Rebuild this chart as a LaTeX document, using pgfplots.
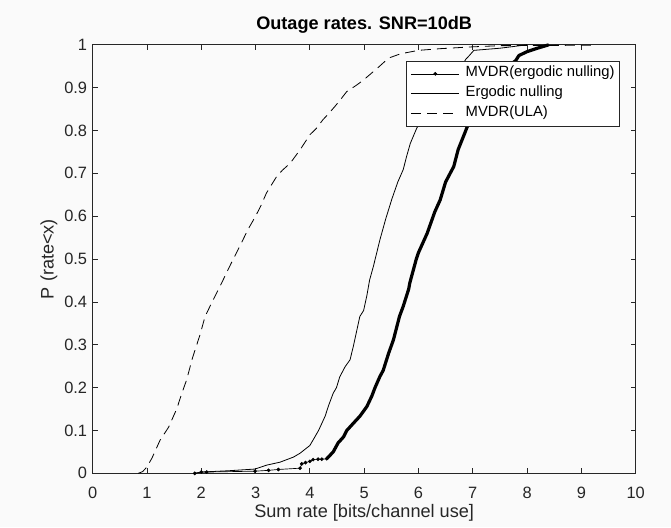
\documentclass[border=0pt]{standalone}
\usepackage{fontspec}
\setmainfont{Liberation Sans}
\usepackage{pgfplots}
\pgfplotsset{compat=1.18}
\definecolor{axcol}{rgb}{0.15,0.15,0.15}
\definecolor{bgcol}{rgb}{0.98,0.98,0.98}
\pgfplotsset{
  linelegend/.style={legend image code/.code={\draw[##1] (0pt,0pt) -- (36pt,0pt);}},
  dotlegend/.style={legend image code/.code={\draw[##1, mark repeat=2, mark phase=2] plot coordinates {(0pt,0pt) (18pt,0pt) (36pt,0pt)};}},
}
\begin{document}
\begin{tikzpicture}
\path[use as bounding box, fill=bgcol] (-69.5pt,-40.3pt) rectangle (433.75pt,355pt);
\begin{axis}[
  at={(0pt,0pt)}, anchor=south west,
  scale only axis, width=407.25pt, height=321.4pt,
  xmin=0, xmax=10, ymin=0, ymax=1,
  xtick={0,1,2,3,4,5,6,7,8,9,10},
  ytick={0,0.1,0.2,0.3,0.4,0.5,0.6,0.7,0.8,0.9,1},
  clip=false,
  axis line style={axcol, line width=0.6pt},
  every tick/.style={axcol, line width=0.6pt},
  major tick length=3.75pt,
  tick align=inside, tick pos=both,
  /pgf/number format/assume math mode=true,
  tick label style={font=\fontsize{12.3}{14}\selectfont, text=axcol},
  xticklabel style={inner sep=0pt, yshift=-10pt},
  yticklabel style={inner sep=0pt, xshift=-4pt},
  title={Outage rates. SNR=10dB},
  title style={font=\bfseries\fontsize{13.6}{16}\selectfont, at={(axis description cs:0.5,1)}, anchor=base, yshift=5.7pt, inner sep=0pt},
  xlabel={Sum rate [bits/channel use]},
  xlabel style={font=\fontsize{13.6}{16}\selectfont, text=axcol, at={(axis description cs:0.5,0)}, anchor=base, yshift=-33.5pt, inner sep=0pt},
  ylabel={P (rate<x)},
  ylabel style={font=\fontsize{13.6}{16}\selectfont, text=axcol, at={(axis description cs:-0.0805,0.5)}, anchor=center, rotate=0, inner sep=0pt},
  linelegend,
  legend cell align=left,
  legend style={at={(axis description cs:0.9705,0.9627)}, anchor=north east,
    draw=axcol, line width=0.6pt, fill=white, inner xsep=3.5pt, inner ysep=2pt,
    font=\fontsize{11.1}{13}\selectfont,
    nodes={inner sep=0pt, text height=9.5pt, text depth=5.5pt},
    /tikz/every odd column/.append style={column sep=4.5pt}},
]
% MVDR(ergodic nulling): sparse low part with markers
\addplot[black, line width=0.5pt, mark=*, mark size=1.1pt, dotlegend]
  coordinates {(1.88,0) (2.0,0.003) (2.1,0.003) (2.99,0.005) (3.24,0.007) (3.42,0.009) (3.82,0.012) (3.85,0.022) (3.92,0.025) (4.0,0.028) (4.06,0.032) (4.15,0.033) (4.22,0.033) (4.31,0.034)};
\addlegendentry{MVDR(ergodic nulling)}
% Ergodic nulling
\addplot[black, line width=0.6pt, mark=none]
  coordinates {(1.88,0) (2.0,0.003) (2.5,0.006) (2.99,0.01) (3.2,0.019) (3.45,0.026) (3.7,0.038) (3.82,0.047) (4.0,0.065) (4.06,0.078) (4.16,0.1) (4.28,0.133) (4.35,0.16) (4.43,0.187) (4.49,0.2) (4.55,0.225) (4.65,0.249) (4.74,0.265) (4.8,0.296) (4.92,0.366) (4.99,0.38) (5.05,0.415) (5.1,0.451) (5.17,0.483) (5.29,0.545) (5.4,0.595) (5.51,0.64) (5.62,0.68) (5.72,0.709) (5.78,0.739) (5.85,0.77) (5.97,0.806) (6.2,0.85) (6.5,0.9) (6.75,0.94) (6.87,0.966) (6.93,0.974) (7.02,0.987) (7.5,0.992) (8.0,1.0)};
\addlegendentry{Ergodic nulling}
% MVDR(ULA)
\addplot[black, line width=0.6pt, mark=none, dash pattern=on 7.5pt off 4.5pt]
  coordinates {(0.84,0) (0.92,0.004) (0.994,0.014) (1.09,0.035) (1.24,0.077) (1.4,0.108) (1.55,0.151) (1.64,0.186) (1.73,0.218) (1.84,0.27) (1.976,0.323) (2.07,0.366) (2.2,0.4) (2.3,0.425) (2.405,0.452) (2.55,0.49) (2.71,0.53) (2.86,0.569) (3.0,0.6) (3.1,0.625) (3.2,0.654) (3.39,0.693) (3.5,0.708) (3.64,0.724) (3.82,0.755) (4.0,0.79) (4.12,0.805) (4.24,0.825) (4.35,0.84) (4.46,0.856) (4.57,0.873) (4.68,0.891) (4.85,0.905) (4.99,0.918) (5.1,0.93) (5.24,0.945) (5.45,0.969) (5.67,0.979) (6.0,0.987) (6.41,0.991) (6.96,0.995) (7.5,0.998) (9.23,0.999) (9.25,1.0)};
\addlegendentry{MVDR(ULA)}
% MVDR(ergodic nulling): dense upper part
\addplot[black, line width=2.4pt, mark=none, line join=round, forget plot]
  coordinates {(4.31,0.034) (4.43,0.05) (4.52,0.071) (4.62,0.085) (4.68,0.1) (4.86,0.125) (4.92,0.133) (5.05,0.156) (5.14,0.18) (5.2,0.2) (5.29,0.226) (5.35,0.24) (5.45,0.28) (5.54,0.312) (5.65,0.366) (5.72,0.39) (5.82,0.43) (5.84,0.444) (5.96,0.5) (6.0,0.515) (6.16,0.56) (6.3,0.61) (6.4,0.638) (6.5,0.68) (6.65,0.716) (6.73,0.755) (6.89,0.806) (7.05,0.86) (7.3,0.9) (7.55,0.94) (7.79,0.963) (7.85,0.975) (8.0,0.984) (8.19,0.992) (8.4,1.0)};
\end{axis}
\end{tikzpicture}
\end{document}
